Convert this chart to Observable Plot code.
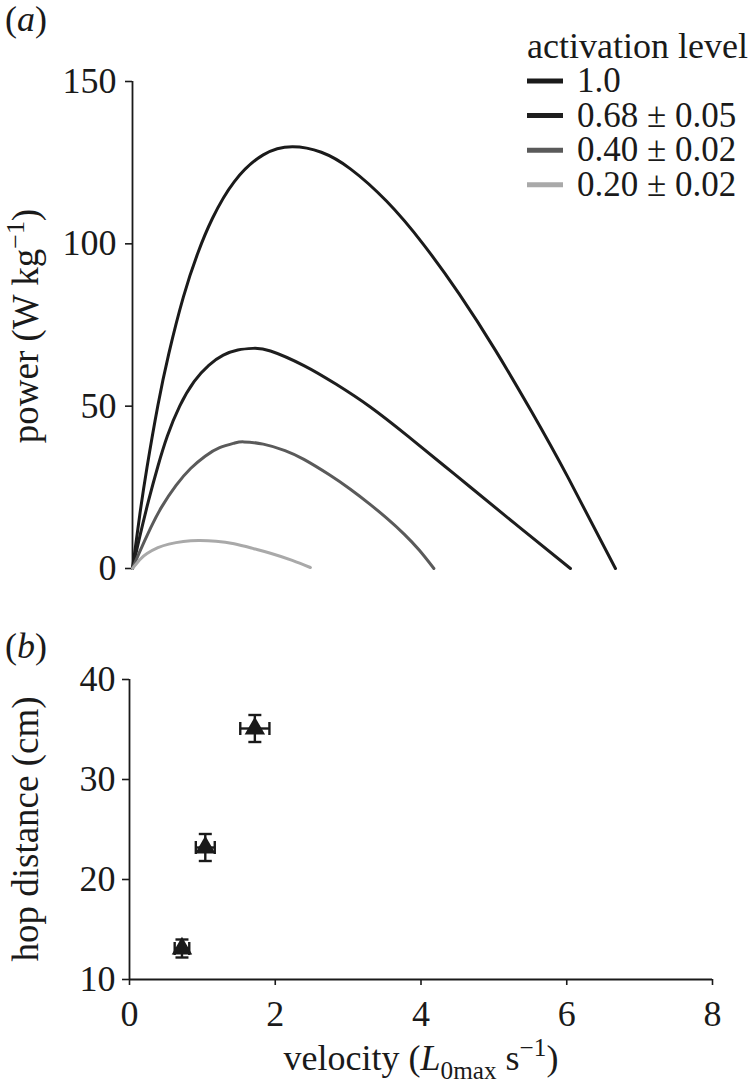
<!DOCTYPE html>
<html><head><meta charset="utf-8">
<script src="https://cdn.jsdelivr.net/npm/d3@7"></script>
<script src="https://cdn.jsdelivr.net/npm/@observablehq/plot@0.6"></script>
<style>
body{margin:0;background:#fff;}
#wrap{position:relative;width:756px;height:1092px;overflow:hidden;background:#fff;}
#wrap > div{position:absolute;left:0;}
</style></head><body><div id="wrap"><div id="pa" style="top:0"></div><div id="pb" style="top:600px"></div></div>
<script>
// ---- panel (a): power vs velocity at four activation levels ----
const levels = ["1.0", "0.68 ± 0.05", "0.40 ± 0.02", "0.20 ± 0.02"];
const levelColors = ["#1a1a1a", "#1e1e1e", "#5a5a5a", "#a9a9a9"];

const v100 = [0, 0.1, 0.2, 0.35, 0.5, 0.7, 0.9, 1.1, 1.4, 1.8, 2.2, 2.6, 3.0, 3.5, 4.0, 4.5, 5.0, 5.5, 6.0, 6.65];
const p100 = [0, 16.5, 31.2, 50.3, 66.2, 83.6, 97.2, 107.8, 119.1, 127.4, 129.9, 128.2, 123.1, 113.1, 100.0, 84.5, 67.1, 48.1, 27.9, 0];

const v068 = [0, 0.1, 0.22, 0.35, 0.48, 0.65, 0.85, 1.05, 1.25, 1.45, 1.66, 1.9, 2.36, 2.8, 3.27, 3.8, 4.3, 4.65, 5.3, 6.03];
const p068 = [0, 9.8, 20.8, 31.5, 40.8, 50.0, 57.6, 62.6, 65.7, 67.3, 67.8, 67.0, 62.5, 56.8, 49.8, 40.6, 31.5, 25.1, 13.2, 0];

const v040 = [0, 0.1, 0.25, 0.4, 0.6, 0.8, 1.0, 1.2, 1.4, 1.53, 1.8, 2.1, 2.36, 2.7, 3.0, 3.28, 3.5, 3.74, 3.95, 4.15];
const p040 = [0, 5.2, 12.5, 18.9, 25.6, 30.8, 34.6, 37.2, 38.6, 39.0, 38.3, 36.3, 33.6, 29.0, 24.4, 19.6, 15.5, 10.6, 5.6, 0];

const v020 = [0, 0.1, 0.2, 0.35, 0.5, 0.7, 0.91, 1.15, 1.4, 1.67, 1.9, 2.2, 2.45];
const p020 = [0, 2.7, 4.6, 6.4, 7.5, 8.3, 8.6, 8.4, 7.6, 6.1, 4.7, 2.5, 0.3];

const powerTicks = [0, 50, 100, 150];
const velocityTicks = [0, 2, 4, 6, 8];

// ---- panel (b): hop distance vs velocity ----
const hopV = [0.72, 1.04, 1.72];
const hopVErr = [0.10, 0.13, 0.20];
const hopD = [13.1, 23.2, 35.1];
const hopDErr = [0.9, 1.35, 1.35];
const hopTicks = [10, 20, 30, 40];

// build tables
const series = [[v100, p100], [v068, p068], [v040, p040], [v020, p020]];
const curves = series.flatMap(([vs, ps], i) => vs.map((v, j) => ({level: levels[i], v, p: ps[j]})));
const pts = hopV.map((v, i) => ({v, ve: hopVErr[i], d: hopD[i], de: hopDErr[i]}));

const FONT = "Liberation Serif";
const INK = "#1a1a1a";
const baseStyle = {fontFamily: FONT, fontSize: "36px", background: "transparent", color: INK, overflow: "visible"};

const capH = {draw(ctx, size) { const r = Math.sqrt(size / Math.PI); ctx.moveTo(-r, 0); ctx.lineTo(r, 0); }};
const capV = {draw(ctx, size) { const r = Math.sqrt(size / Math.PI); ctx.moveTo(0, -r); ctx.lineTo(0, r); }};

const plotA = Plot.plot({
  width: 756, height: 600,
  marginLeft: 132, marginRight: 43, marginTop: 81, marginBottom: 32,
  style: baseStyle,
  x: {domain: [0, 8], axis: null},
  y: {domain: [0, 150], axis: null},
  color: {domain: levels, range: levelColors},
  marks: [
    Plot.axisY({ticks: powerTicks, tickSize: 7, tickPadding: 9, label: null, strokeWidth: 1.6}),
    Plot.ruleX([0], {stroke: INK, strokeWidth: 1.8}),
    Plot.line(curves, {x: "v", y: "p", z: "level", stroke: "level", strokeWidth: 3, curve: "natural"})
  ]
});

const plotB = Plot.plot({
  width: 756, height: 492,
  marginLeft: 129, marginRight: 44, marginTop: 79, marginBottom: 113,
  style: baseStyle,
  x: {domain: [0, 8], axis: null},
  y: {domain: [10, 40], axis: null},
  marks: [
    Plot.axisY({ticks: hopTicks, tickSize: 7, tickPadding: 7, label: null, strokeWidth: 1.6}),
    Plot.axisX({ticks: velocityTicks, tickSize: 6, tickPadding: 15, label: null, strokeWidth: 1.6}),
    Plot.ruleX([0], {stroke: INK, strokeWidth: 1.8}),
    Plot.ruleY([10], {stroke: INK, strokeWidth: 1.8}),
    Plot.ruleX(pts, {x: "v", y1: d => d.d - d.de, y2: d => d.d + d.de, stroke: INK, strokeWidth: 2.4}),
    Plot.ruleY(pts, {y: "d", x1: d => d.v - d.ve, x2: d => d.v + d.ve, stroke: INK, strokeWidth: 2.4}),
    Plot.dot(pts, {x: "v", y: d => d.d + d.de, symbol: capH, r: 6.5, stroke: INK, fill: "none", strokeWidth: 2.4}),
    Plot.dot(pts, {x: "v", y: d => d.d - d.de, symbol: capH, r: 6.5, stroke: INK, fill: "none", strokeWidth: 2.4}),
    Plot.dot(pts, {x: d => d.v - d.ve, y: "d", symbol: capV, r: 6.5, stroke: INK, fill: "none", strokeWidth: 2.4}),
    Plot.dot(pts, {x: d => d.v + d.ve, y: "d", symbol: capV, r: 6.5, stroke: INK, fill: "none", strokeWidth: 2.4}),
    Plot.dot(pts, {x: "v", y: "d", symbol: "triangle", r: 7.6, fill: INK, stroke: "none"})
  ]
});

document.getElementById("pa").appendChild(plotA);
document.getElementById("pb").appendChild(plotB);

// rich text helper: parts = [{t, italic, sub, sup}]
function rich(sel, parts, size) {
  let shift = 0;
  parts.forEach(p => {
    const ts = sel.append("tspan").text(p.t);
    let target = 0;
    if (p.sub) { ts.attr("font-size", size * 0.7); target = size * 0.25; }
    else if (p.sup) { ts.attr("font-size", size * 0.7); target = -size * 0.38; }
    if (p.italic) ts.attr("font-style", "italic");
    if (target !== shift) { ts.attr("dy", target - shift); shift = target; }
  });
}

const A = d3.select(plotA);
const tA = A.append("text").attr("x", 5).attr("y", 31).attr("font-size", 36).attr("fill", INK).attr("text-anchor", "start");
rich(tA, [{t: "("}, {t: "a", italic: true}, {t: ")"}], 36);

const yA = A.append("text").attr("transform", "translate(38,326) rotate(-90)")
  .attr("text-anchor", "middle").attr("font-size", 37).attr("fill", INK);
rich(yA, [{t: "power (W kg"}, {t: "−1", sup: true}, {t: ")"}], 37);

// legend
const lg = A.append("g").attr("fill", INK).attr("font-size", 35).attr("text-anchor", "start");
lg.append("text").attr("x", 527).attr("y", 58).attr("font-size", 36).text("activation level");
levels.forEach((lv, i) => {
  const yb = 92 + i * 34.6;
  lg.append("line").attr("x1", 527).attr("x2", 563).attr("y1", yb - 11).attr("y2", yb - 11)
    .attr("stroke", levelColors[i]).attr("stroke-width", 5);
  lg.append("text").attr("x", 577).attr("y", yb).text(lv);
});

const B = d3.select(plotB);
const tB = B.append("text").attr("x", 5).attr("y", 58).attr("font-size", 36).attr("fill", INK).attr("text-anchor", "start");
rich(tB, [{t: "("}, {t: "b", italic: true}, {t: ")"}], 36);

const yB = B.append("text").attr("transform", "translate(38,229) rotate(-90)")
  .attr("text-anchor", "middle").attr("font-size", 37).attr("fill", INK);
rich(yB, [{t: "hop distance (cm)"}], 37);

const xB = B.append("text").attr("x", 421).attr("y", 470).attr("text-anchor", "middle")
  .attr("font-size", 36).attr("fill", INK);
rich(xB, [{t: "velocity ("}, {t: "L", italic: true}, {t: "0max", sub: true}, {t: " s"}, {t: "−1", sup: true}, {t: ")"}], 36);
</script>
</body></html>
